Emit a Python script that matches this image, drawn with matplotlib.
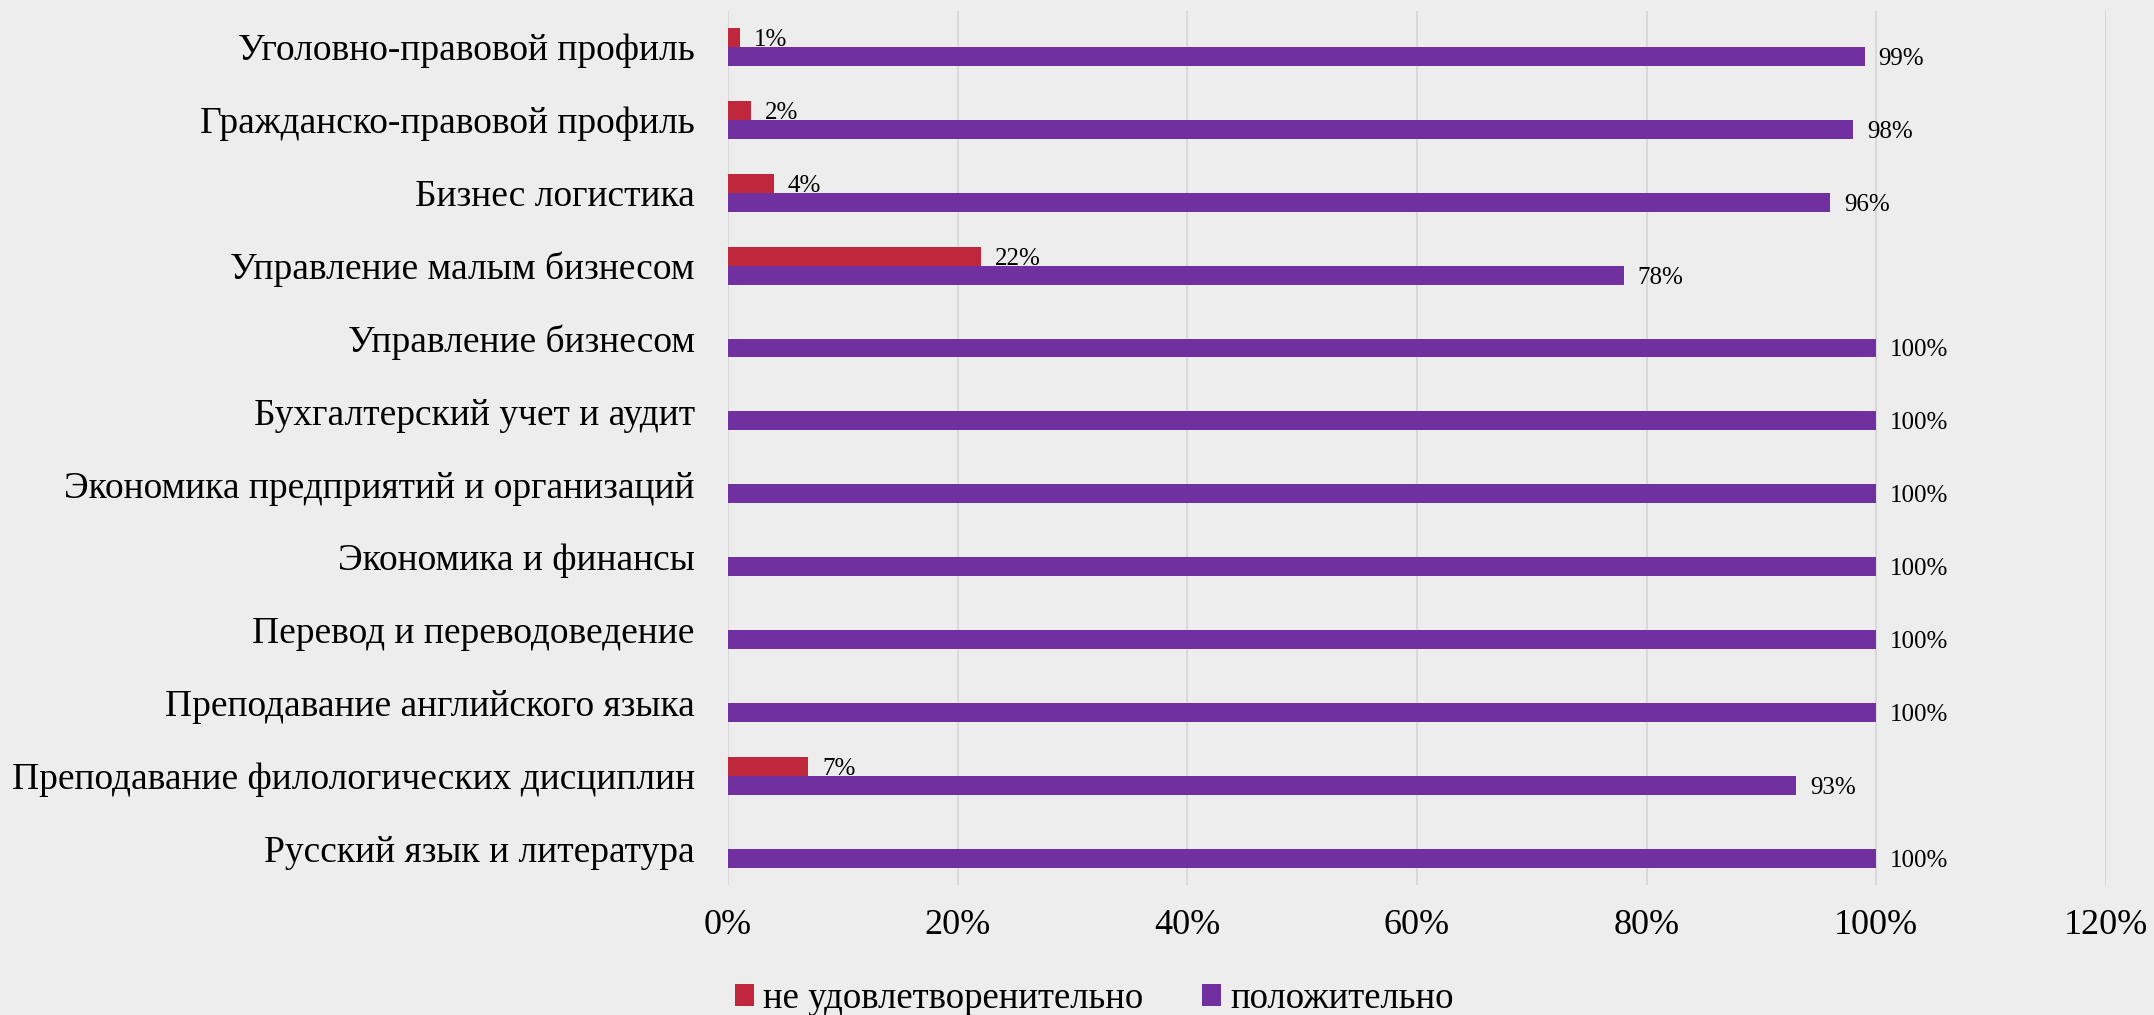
import numpy as np
import matplotlib
matplotlib.use('Agg')
import matplotlib.pyplot as plt
from matplotlib.ticker import PercentFormatter

categories = ['Уголовно-правовой профиль', 'Гражданско-правовой профиль', 'Бизнес логистика',
              'Управление малым бизнесом', 'Управление бизнесом', 'Бухгалтерский учет и аудит',
              'Экономика предприятий и организаций', 'Экономика и финансы', 'Перевод и переводоведение',
              'Преподавание английского языка', 'Преподавание филологических дисциплин',
              'Русский язык и литература']
bad = [1, 2, 4, 22, 0, 0, 0, 0, 0, 0, 7, 0]
good = [99, 98, 96, 78, 100, 100, 100, 100, 100, 100, 93, 100]
series_names = ['не удовлетворенительно', 'положительно']

plt.rcParams['font.family'] = ['Liberation Serif', 'DejaVu Serif']
bg = '#EDEDED'
red = '#C0263C'
purple = '#7030A0'

fig = plt.figure(figsize=(21.54, 10.15), dpi=100, facecolor=bg)
ax = fig.add_axes([0.338, 0.128, 0.6397, 0.8616], facecolor=bg)

y = np.arange(len(categories))
h = 0.26
b1 = ax.barh(y - h / 2, np.array(bad) / 100, height=h, color=red, label=series_names[0])
b2 = ax.barh(y + h / 2, np.array(good) / 100, height=h, color=purple, label=series_names[1])

# data labels, skip the empty ones
for bars, vals in ((b1, bad), (b2, good)):
    for rect, v in zip(bars, vals):
        if v == 0:
            continue
        ax.annotate(f'{v}%', (rect.get_width(), rect.get_y() + rect.get_height() / 2),
                    xytext=(10, 0), textcoords='offset points', va='center_baseline',
                    ha='left', fontsize=18)

ax.set_xlim(0, 1.2)
ax.set_ylim(len(categories) - 0.5, -0.5)
ax.set_xticks(np.arange(0, 1.21, 0.2))
ax.xaxis.set_major_formatter(PercentFormatter(1.0, decimals=0))
ax.set_yticks(y)
ax.set_yticklabels(categories)
ax.tick_params(axis='x', length=0, pad=17, labelsize=26)
ax.tick_params(axis='y', length=0, pad=24, labelsize=27)
ax.grid(axis='x', color='#D9D9D9', linewidth=1.5)
ax.set_axisbelow(True)
for s in ax.spines.values():
    s.set_visible(False)

fig.legend(handles=[b1, b2], loc='center', bbox_to_anchor=(0.508, 0.016), ncol=2, frameon=False,
           fontsize=26.5, handlelength=0.52, handleheight=0.52, handletextpad=0.25, columnspacing=1.6)

fig.savefig('out.png', facecolor=bg)
